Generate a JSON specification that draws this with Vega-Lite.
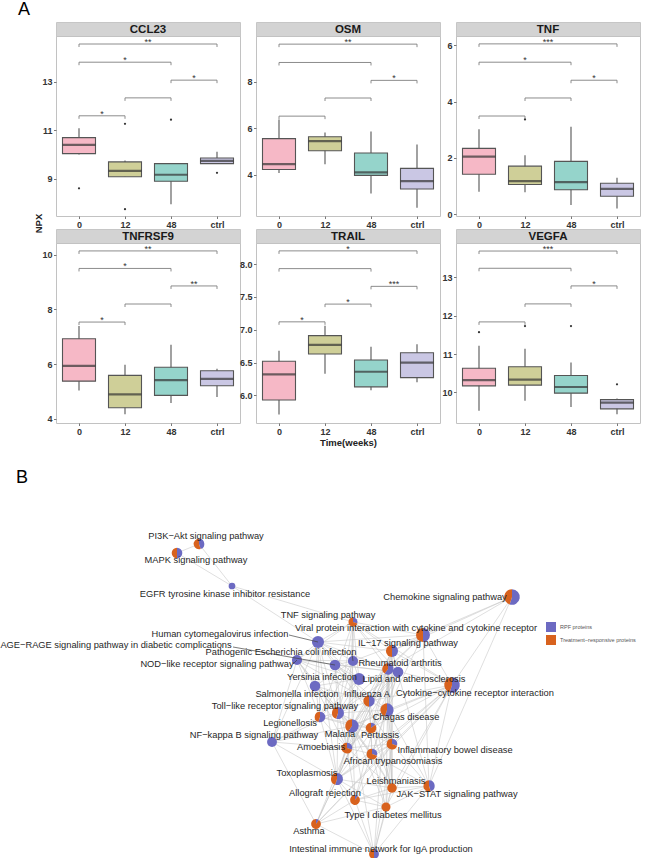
{
"$schema": "https://vega.github.io/schema/vega-lite/v6.json",
"padding": 0,
"background": "white",
"title": {"text": "A", "anchor": "start", "dx": 18, "fontSize": 18, "fontWeight": "normal", "offset": 3, "color": "#000000"},
"config": {
 "font": "Liberation Sans",
 "axis": {"labelFont": "Liberation Sans", "labelFontSize": 9, "labelFontWeight": "bold", "labelColor": "#333333", "tickColor": "#555555", "tickSize": 2.5, "tickWidth": 0.8, "domain": false, "grid": false, "labelPadding": 1.5, "titleFont": "Liberation Sans", "titleFontSize": 9.5, "titleFontWeight": "bold", "titleColor": "#222222"},
 "axisX": {"labelAngle": 0},
 "text": {"font": "Liberation Sans"}
},
"datasets": {
 "boxes": [
  {"protein": "CCL23", "time": "0", "lower": 10.0, "q1": 10.03, "median": 10.39, "q3": 10.69, "upper": 11.08},
  {"protein": "CCL23", "time": "12", "lower": 9.08, "q1": 9.08, "median": 9.32, "q3": 9.69, "upper": 9.75},
  {"protein": "CCL23", "time": "48", "lower": 7.94, "q1": 8.89, "median": 9.16, "q3": 9.62, "upper": 9.62},
  {"protein": "CCL23", "time": "ctrl", "lower": 9.62, "q1": 9.62, "median": 9.73, "q3": 9.85, "upper": 10.11},
  {"protein": "OSM", "time": "0", "lower": 4.07, "q1": 4.22, "median": 4.45, "q3": 5.55, "upper": 6.38},
  {"protein": "OSM", "time": "12", "lower": 4.45, "q1": 5.03, "median": 5.44, "q3": 5.63, "upper": 5.81},
  {"protein": "OSM", "time": "48", "lower": 3.19, "q1": 3.97, "median": 4.10, "q3": 4.93, "upper": 5.86},
  {"protein": "OSM", "time": "ctrl", "lower": 2.57, "q1": 3.38, "median": 3.72, "q3": 4.27, "upper": 5.30},
  {"protein": "TNF", "time": "0", "lower": 0.80, "q1": 1.42, "median": 2.05, "q3": 2.34, "upper": 3.02},
  {"protein": "TNF", "time": "12", "lower": 0.78, "q1": 1.06, "median": 1.18, "q3": 1.71, "upper": 2.10},
  {"protein": "TNF", "time": "48", "lower": 0.33, "q1": 0.87, "median": 1.14, "q3": 1.88, "upper": 3.11},
  {"protein": "TNF", "time": "ctrl", "lower": 0.21, "q1": 0.64, "median": 0.90, "q3": 1.10, "upper": 1.30},
  {"protein": "TNFRSF9", "time": "0", "lower": 5.04, "q1": 5.38, "median": 5.94, "q3": 6.93, "upper": 7.40},
  {"protein": "TNFRSF9", "time": "12", "lower": 4.17, "q1": 4.41, "median": 4.90, "q3": 5.59, "upper": 5.98},
  {"protein": "TNFRSF9", "time": "48", "lower": 4.58, "q1": 4.86, "median": 5.42, "q3": 5.89, "upper": 6.71},
  {"protein": "TNFRSF9", "time": "ctrl", "lower": 4.80, "q1": 5.21, "median": 5.46, "q3": 5.76, "upper": 5.83},
  {"protein": "TRAIL", "time": "0", "lower": 5.71, "q1": 5.93, "median": 6.32, "q3": 6.52, "upper": 6.68},
  {"protein": "TRAIL", "time": "12", "lower": 6.33, "q1": 6.63, "median": 6.77, "q3": 6.91, "upper": 7.06},
  {"protein": "TRAIL", "time": "48", "lower": 6.08, "q1": 6.13, "median": 6.36, "q3": 6.54, "upper": 6.74},
  {"protein": "TRAIL", "time": "ctrl", "lower": 6.20, "q1": 6.27, "median": 6.50, "q3": 6.65, "upper": 6.78},
  {"protein": "VEGFA", "time": "0", "lower": 9.52, "q1": 10.17, "median": 10.32, "q3": 10.63, "upper": 11.22},
  {"protein": "VEGFA", "time": "12", "lower": 9.78, "q1": 10.19, "median": 10.33, "q3": 10.67, "upper": 11.14},
  {"protein": "VEGFA", "time": "48", "lower": 9.62, "q1": 9.98, "median": 10.14, "q3": 10.44, "upper": 10.78},
  {"protein": "VEGFA", "time": "ctrl", "lower": 9.43, "q1": 9.57, "median": 9.73, "q3": 9.81, "upper": 9.84}
 ],
 "outliers": [
  {"protein": "CCL23", "time": "0", "value": 8.60},
  {"protein": "CCL23", "time": "12", "value": 11.26},
  {"protein": "CCL23", "time": "12", "value": 7.74},
  {"protein": "CCL23", "time": "48", "value": 11.43},
  {"protein": "CCL23", "time": "ctrl", "value": 9.24},
  {"protein": "TNF", "time": "12", "value": 3.37},
  {"protein": "VEGFA", "time": "0", "value": 11.57},
  {"protein": "VEGFA", "time": "12", "value": 11.73},
  {"protein": "VEGFA", "time": "48", "value": 11.73},
  {"protein": "VEGFA", "time": "ctrl", "value": 10.21}
 ],
 "brackets": [
  {"protein": "CCL23", "g1": "0", "g2": "ctrl", "mid": "12|48", "y": 14.55, "label": "**"},
  {"protein": "CCL23", "g1": "0", "g2": "48", "mid": "12", "y": 13.80, "label": "*"},
  {"protein": "CCL23", "g1": "48", "g2": "ctrl", "mid": "48|ctrl", "y": 13.06, "label": "*"},
  {"protein": "CCL23", "g1": "12", "g2": "48", "mid": "12|48", "y": 12.33, "label": ""},
  {"protein": "CCL23", "g1": "0", "g2": "12", "mid": "0|12", "y": 11.59, "label": "*"},
  {"protein": "OSM", "g1": "0", "g2": "ctrl", "mid": "12|48", "y": 9.62, "label": "**"},
  {"protein": "OSM", "g1": "0", "g2": "48", "mid": "12", "y": 8.83, "label": ""},
  {"protein": "OSM", "g1": "48", "g2": "ctrl", "mid": "48|ctrl", "y": 8.06, "label": "*"},
  {"protein": "OSM", "g1": "12", "g2": "48", "mid": "12|48", "y": 7.30, "label": ""},
  {"protein": "OSM", "g1": "0", "g2": "12", "mid": "0|12", "y": 6.52, "label": ""},
  {"protein": "TNF", "g1": "0", "g2": "ctrl", "mid": "12|48", "y": 6.05, "label": "***"},
  {"protein": "TNF", "g1": "0", "g2": "48", "mid": "12", "y": 5.40, "label": "*"},
  {"protein": "TNF", "g1": "48", "g2": "ctrl", "mid": "48|ctrl", "y": 4.76, "label": "*"},
  {"protein": "TNF", "g1": "12", "g2": "48", "mid": "12|48", "y": 4.13, "label": ""},
  {"protein": "TNF", "g1": "0", "g2": "12", "mid": "0|12", "y": 3.49, "label": ""},
  {"protein": "TNFRSF9", "g1": "0", "g2": "ctrl", "mid": "12|48", "y": 10.14, "label": "**"},
  {"protein": "TNFRSF9", "g1": "0", "g2": "48", "mid": "12", "y": 9.50, "label": "*"},
  {"protein": "TNFRSF9", "g1": "48", "g2": "ctrl", "mid": "48|ctrl", "y": 8.86, "label": "**"},
  {"protein": "TNFRSF9", "g1": "12", "g2": "48", "mid": "12|48", "y": 8.20, "label": ""},
  {"protein": "TNFRSF9", "g1": "0", "g2": "12", "mid": "0|12", "y": 7.54, "label": "*"},
  {"protein": "TRAIL", "g1": "0", "g2": "ctrl", "mid": "12|48", "y": 8.20, "label": "*"},
  {"protein": "TRAIL", "g1": "0", "g2": "48", "mid": "12", "y": 7.93, "label": ""},
  {"protein": "TRAIL", "g1": "48", "g2": "ctrl", "mid": "48|ctrl", "y": 7.66, "label": "***"},
  {"protein": "TRAIL", "g1": "12", "g2": "48", "mid": "12|48", "y": 7.39, "label": "*"},
  {"protein": "TRAIL", "g1": "0", "g2": "12", "mid": "0|12", "y": 7.12, "label": "*"},
  {"protein": "VEGFA", "g1": "0", "g2": "ctrl", "mid": "12|48", "y": 13.69, "label": "***"},
  {"protein": "VEGFA", "g1": "0", "g2": "48", "mid": "12", "y": 13.24, "label": ""},
  {"protein": "VEGFA", "g1": "48", "g2": "ctrl", "mid": "48|ctrl", "y": 12.78, "label": "*"},
  {"protein": "VEGFA", "g1": "12", "g2": "48", "mid": "12|48", "y": 12.31, "label": ""},
  {"protein": "VEGFA", "g1": "0", "g2": "12", "mid": "0|12", "y": 11.84, "label": ""}
 ],
 "nodes": [
  {"id": "PI3K", "label": "PI3K−Akt signaling pathway", "x": 199, "y": 543, "n": 3.5, "lx": 206, "ly": 535},
  {"id": "MAPK", "label": "MAPK signaling pathway", "x": 177, "y": 552, "n": 3.5, "lx": 196, "ly": 559},
  {"id": "EGFR", "label": "EGFR tyrosine kinase inhibitor resistance", "x": 232, "y": 585, "n": 1.4, "lx": 225, "ly": 593},
  {"id": "Chemo", "label": "Chemokine signaling pathway", "x": 512, "y": 596, "n": 7.5, "lx": 445, "ly": 596},
  {"id": "TNF", "label": "TNF signaling pathway", "x": 353, "y": 621, "n": 2.5, "lx": 328, "ly": 614},
  {"id": "Viral", "label": "Viral protein interaction with cytokine and cytokine receptor", "x": 423, "y": 634, "n": 6, "lx": 416, "ly": 627},
  {"id": "HCMV", "label": "Human cytomegalovirus infection", "x": 318, "y": 641, "n": 4.5, "lx": 220, "ly": 633, "qx": 289, "qy": 634},
  {"id": "IL17", "label": "IL−17 signaling pathway", "x": 392, "y": 650, "n": 4.5, "lx": 408, "ly": 642},
  {"id": "AGE", "label": "AGE−RAGE signaling pathway in diabetic complications", "x": 335, "y": 664, "n": 3.5, "lx": 116, "ly": 644, "qx": 233, "qy": 646},
  {"id": "Ecoli", "label": "Pathogenic Escherichia coli infection", "x": 353, "y": 660, "n": 3.2, "lx": 281, "ly": 651, "qx": 352, "qy": 653},
  {"id": "NOD", "label": "NOD−like receptor signaling pathway", "x": 297, "y": 659, "n": 3.2, "lx": 217, "ly": 663, "qx": 293, "qy": 663},
  {"id": "Lipid", "label": "Lipid and atherosclerosis", "x": 398, "y": 671, "n": 3.5, "lx": 414, "ly": 678},
  {"id": "RA", "label": "Rheumatoid arthritis", "x": 388, "y": 668, "n": 4, "lx": 400, "ly": 662},
  {"id": "Yersinia", "label": "Yersinia infection", "x": 359, "y": 678, "n": 4.5, "lx": 322, "ly": 676},
  {"id": "Salmonella", "label": "Salmonella infection", "x": 315, "y": 685, "n": 3.5, "lx": 297, "ly": 693},
  {"id": "Influenza", "label": "Influenza A", "x": 369, "y": 700, "n": 4, "lx": 367, "ly": 693},
  {"id": "Cytokine", "label": "Cytokine−cytokine receptor interaction", "x": 452, "y": 684, "n": 7.5, "lx": 475, "ly": 692},
  {"id": "Toll", "label": "Toll−like receptor signaling pathway", "x": 338, "y": 712, "n": 4.5, "lx": 285, "ly": 705},
  {"id": "Chagas", "label": "Chagas disease", "x": 387, "y": 709, "n": 5.5, "lx": 406, "ly": 716},
  {"id": "Legion", "label": "Legionellosis", "x": 320, "y": 716, "n": 3.5, "lx": 290, "ly": 722},
  {"id": "Malaria", "label": "Malaria", "x": 352, "y": 725, "n": 5.5, "lx": 340, "ly": 733},
  {"id": "Pertussis", "label": "Pertussis", "x": 371, "y": 727, "n": 3.5, "lx": 380, "ly": 734},
  {"id": "NFkB", "label": "NF−kappa B signaling pathway", "x": 272, "y": 741, "n": 3, "lx": 254, "ly": 734},
  {"id": "Amoeb", "label": "Amoebiasis", "x": 347, "y": 747, "n": 3.5, "lx": 321, "ly": 746},
  {"id": "IBD", "label": "Inflammatory bowel disease", "x": 392, "y": 743, "n": 3.5, "lx": 455, "ly": 749},
  {"id": "African", "label": "African trypanosomiasis", "x": 372, "y": 753, "n": 3.5, "lx": 393, "ly": 760},
  {"id": "Toxo", "label": "Toxoplasmosis", "x": 337, "y": 778, "n": 4.5, "lx": 307, "ly": 772},
  {"id": "Leish", "label": "Leishmaniasis", "x": 392, "y": 787, "n": 2.8, "lx": 396, "ly": 780},
  {"id": "JAK", "label": "JAK−STAT signaling pathway", "x": 429, "y": 785, "n": 4, "lx": 457, "ly": 793},
  {"id": "Allo", "label": "Allograft rejection", "x": 355, "y": 799, "n": 3, "lx": 325, "ly": 792},
  {"id": "T1D", "label": "Type I diabetes mellitus", "x": 386, "y": 806, "n": 2.5, "lx": 393, "ly": 814},
  {"id": "Asthma", "label": "Asthma", "x": 316, "y": 823, "n": 3, "lx": 309, "ly": 830},
  {"id": "IgA", "label": "Intestinal immune network for IgA production", "x": 374, "y": 853, "n": 3, "lx": 381, "ly": 848}
 ],
 "slices": [
  {"id": "PI3K", "cls": "RPF proteins", "t0": 0, "t1": 0.45}, {"id": "PI3K", "cls": "Treatment−responsive proteins", "t0": 0.45, "t1": 1},
  {"id": "MAPK", "cls": "RPF proteins", "t0": 0, "t1": 0.5}, {"id": "MAPK", "cls": "Treatment−responsive proteins", "t0": 0.5, "t1": 1},
  {"id": "EGFR", "cls": "RPF proteins", "t0": 0, "t1": 1},
  {"id": "Chemo", "cls": "RPF proteins", "t0": 0, "t1": 0.55}, {"id": "Chemo", "cls": "Treatment−responsive proteins", "t0": 0.55, "t1": 1},
  {"id": "TNF", "cls": "RPF proteins", "t0": 0, "t1": 0.3}, {"id": "TNF", "cls": "Treatment−responsive proteins", "t0": 0.3, "t1": 1},
  {"id": "Viral", "cls": "RPF proteins", "t0": 0, "t1": 0.5}, {"id": "Viral", "cls": "Treatment−responsive proteins", "t0": 0.5, "t1": 1},
  {"id": "HCMV", "cls": "RPF proteins", "t0": 0, "t1": 1},
  {"id": "IL17", "cls": "RPF proteins", "t0": 0, "t1": 0.5}, {"id": "IL17", "cls": "Treatment−responsive proteins", "t0": 0.5, "t1": 1},
  {"id": "AGE", "cls": "RPF proteins", "t0": 0, "t1": 1},
  {"id": "Ecoli", "cls": "RPF proteins", "t0": 0, "t1": 1},
  {"id": "NOD", "cls": "RPF proteins", "t0": 0, "t1": 1},
  {"id": "Lipid", "cls": "RPF proteins", "t0": 0, "t1": 1},
  {"id": "RA", "cls": "RPF proteins", "t0": 0, "t1": 0.6}, {"id": "RA", "cls": "Treatment−responsive proteins", "t0": 0.6, "t1": 1},
  {"id": "Yersinia", "cls": "RPF proteins", "t0": 0, "t1": 1},
  {"id": "Salmonella", "cls": "RPF proteins", "t0": 0, "t1": 1},
  {"id": "Influenza", "cls": "RPF proteins", "t0": 0, "t1": 0.5}, {"id": "Influenza", "cls": "Treatment−responsive proteins", "t0": 0.5, "t1": 1},
  {"id": "Cytokine", "cls": "RPF proteins", "t0": 0, "t1": 0.55}, {"id": "Cytokine", "cls": "Treatment−responsive proteins", "t0": 0.55, "t1": 1},
  {"id": "Toll", "cls": "RPF proteins", "t0": 0, "t1": 0.55}, {"id": "Toll", "cls": "Treatment−responsive proteins", "t0": 0.55, "t1": 1},
  {"id": "Chagas", "cls": "RPF proteins", "t0": 0, "t1": 0.55}, {"id": "Chagas", "cls": "Treatment−responsive proteins", "t0": 0.55, "t1": 1},
  {"id": "Legion", "cls": "RPF proteins", "t0": 0, "t1": 0.55}, {"id": "Legion", "cls": "Treatment−responsive proteins", "t0": 0.55, "t1": 1},
  {"id": "Malaria", "cls": "RPF proteins", "t0": 0, "t1": 0.6}, {"id": "Malaria", "cls": "Treatment−responsive proteins", "t0": 0.6, "t1": 1},
  {"id": "Pertussis", "cls": "RPF proteins", "t0": 0, "t1": 0.15}, {"id": "Pertussis", "cls": "Treatment−responsive proteins", "t0": 0.15, "t1": 1},
  {"id": "NFkB", "cls": "RPF proteins", "t0": 0, "t1": 1},
  {"id": "Amoeb", "cls": "RPF proteins", "t0": 0, "t1": 0.3}, {"id": "Amoeb", "cls": "Treatment−responsive proteins", "t0": 0.3, "t1": 1},
  {"id": "IBD", "cls": "RPF proteins", "t0": 0, "t1": 0.3}, {"id": "IBD", "cls": "Treatment−responsive proteins", "t0": 0.3, "t1": 1},
  {"id": "African", "cls": "RPF proteins", "t0": 0, "t1": 0.3}, {"id": "African", "cls": "Treatment−responsive proteins", "t0": 0.3, "t1": 1},
  {"id": "Toxo", "cls": "RPF proteins", "t0": 0, "t1": 0.55}, {"id": "Toxo", "cls": "Treatment−responsive proteins", "t0": 0.55, "t1": 1},
  {"id": "Leish", "cls": "Treatment−responsive proteins", "t0": 0, "t1": 1},
  {"id": "JAK", "cls": "RPF proteins", "t0": 0, "t1": 0.45}, {"id": "JAK", "cls": "Treatment−responsive proteins", "t0": 0.45, "t1": 1},
  {"id": "Allo", "cls": "RPF proteins", "t0": 0, "t1": 0.1}, {"id": "Allo", "cls": "Treatment−responsive proteins", "t0": 0.1, "t1": 1},
  {"id": "T1D", "cls": "Treatment−responsive proteins", "t0": 0, "t1": 1},
  {"id": "Asthma", "cls": "RPF proteins", "t0": 0, "t1": 0.1}, {"id": "Asthma", "cls": "Treatment−responsive proteins", "t0": 0.1, "t1": 1},
  {"id": "IgA", "cls": "RPF proteins", "t0": 0, "t1": 0.5}, {"id": "IgA", "cls": "Treatment−responsive proteins", "t0": 0.5, "t1": 1}
 ],
 "edges": [
  {"a":"PI3K","b":"MAPK"},{"a":"PI3K","b":"EGFR"},{"a":"MAPK","b":"EGFR"},{"a":"EGFR","b":"TNF"},{"a":"EGFR","b":"HCMV"},
  {"a":"Chemo","b":"Viral"},{"a":"Chemo","b":"Cytokine"},{"a":"Chemo","b":"IL17"},{"a":"Chemo","b":"JAK"},{"a":"Chemo","b":"RA"},
  {"a":"Viral","b":"IL17"},{"a":"Viral","b":"Cytokine"},{"a":"Viral","b":"HCMV"},{"a":"Viral","b":"TNF"},{"a":"Viral","b":"RA"},{"a":"Viral","b":"Ecoli"},{"a":"Viral","b":"Toll"},{"a":"Viral","b":"Chagas"},{"a":"Viral","b":"JAK"},
  {"a":"TNF","b":"IL17"},{"a":"TNF","b":"HCMV"},{"a":"TNF","b":"Ecoli"},{"a":"TNF","b":"NOD"},{"a":"TNF","b":"RA"},{"a":"TNF","b":"Toll"},{"a":"TNF","b":"Yersinia"},{"a":"TNF","b":"Lipid"},{"a":"TNF","b":"Legion"},{"a":"TNF","b":"Malaria"},{"a":"TNF","b":"Cytokine"},{"a":"TNF","b":"Amoeb"},
  {"a":"HCMV","b":"NOD"},{"a":"HCMV","b":"AGE"},{"a":"HCMV","b":"Ecoli"},{"a":"HCMV","b":"Lipid"},{"a":"HCMV","b":"Toll"},{"a":"HCMV","b":"NFkB"},{"a":"HCMV","b":"Yersinia"},{"a":"HCMV","b":"Salmonella"},{"a":"HCMV","b":"Legion"},{"a":"HCMV","b":"Toxo"},{"a":"HCMV","b":"Influenza"},{"a":"HCMV","b":"IL17"},
  {"a":"IL17","b":"RA"},{"a":"IL17","b":"Cytokine"},{"a":"IL17","b":"Lipid"},{"a":"IL17","b":"Chagas"},{"a":"IL17","b":"Malaria"},{"a":"IL17","b":"Pertussis"},{"a":"IL17","b":"IBD"},{"a":"IL17","b":"Amoeb"},{"a":"IL17","b":"Leish"},{"a":"IL17","b":"Toxo"},{"a":"IL17","b":"JAK"},
  {"a":"NOD","b":"Ecoli"},{"a":"NOD","b":"Yersinia"},{"a":"NOD","b":"Salmonella"},{"a":"NOD","b":"Toll"},{"a":"NOD","b":"Legion"},{"a":"NOD","b":"Lipid"},{"a":"NOD","b":"Influenza"},{"a":"NOD","b":"Malaria"},{"a":"NOD","b":"NFkB"},
  {"a":"AGE","b":"Lipid"},{"a":"AGE","b":"Yersinia"},{"a":"AGE","b":"Toll"},{"a":"AGE","b":"Ecoli"},{"a":"AGE","b":"Chagas"},{"a":"AGE","b":"Amoeb"},{"a":"AGE","b":"IBD"},
  {"a":"Ecoli","b":"Yersinia"},{"a":"Ecoli","b":"Salmonella"},{"a":"Ecoli","b":"Lipid"},{"a":"Ecoli","b":"Toll"},{"a":"Ecoli","b":"Legion"},{"a":"Ecoli","b":"Amoeb"},
  {"a":"RA","b":"Cytokine"},{"a":"RA","b":"Lipid"},{"a":"RA","b":"Chagas"},{"a":"RA","b":"Malaria"},{"a":"RA","b":"IBD"},{"a":"RA","b":"Leish"},{"a":"RA","b":"Toxo"},{"a":"RA","b":"Allo"},{"a":"RA","b":"T1D"},{"a":"RA","b":"Asthma"},{"a":"RA","b":"IgA"},
  {"a":"Yersinia","b":"Salmonella"},{"a":"Yersinia","b":"Toll"},{"a":"Yersinia","b":"Legion"},{"a":"Yersinia","b":"Lipid"},{"a":"Yersinia","b":"Malaria"},
  {"a":"Lipid","b":"Influenza"},{"a":"Lipid","b":"Chagas"},{"a":"Lipid","b":"Toll"},{"a":"Lipid","b":"Malaria"},{"a":"Lipid","b":"Pertussis"},{"a":"Lipid","b":"Amoeb"},{"a":"Lipid","b":"African"},
  {"a":"Salmonella","b":"Toll"},{"a":"Salmonella","b":"Legion"},{"a":"Salmonella","b":"Influenza"},{"a":"Salmonella","b":"Malaria"},{"a":"Salmonella","b":"Amoeb"},
  {"a":"Influenza","b":"Toll"},{"a":"Influenza","b":"Chagas"},{"a":"Influenza","b":"Malaria"},{"a":"Influenza","b":"Pertussis"},{"a":"Influenza","b":"Cytokine"},{"a":"Influenza","b":"African"},{"a":"Influenza","b":"Leish"},
  {"a":"Cytokine","b":"Chagas"},{"a":"Cytokine","b":"JAK"},{"a":"Cytokine","b":"IBD"},{"a":"Cytokine","b":"Pertussis"},{"a":"Cytokine","b":"Malaria"},{"a":"Cytokine","b":"Leish"},{"a":"Cytokine","b":"African"},{"a":"Cytokine","b":"T1D"},{"a":"Cytokine","b":"Toxo"},{"a":"Cytokine","b":"Asthma"},
  {"a":"Toll","b":"Chagas"},{"a":"Toll","b":"Legion"},{"a":"Toll","b":"Malaria"},{"a":"Toll","b":"Pertussis"},{"a":"Toll","b":"Amoeb"},{"a":"Toll","b":"NFkB"},{"a":"Toll","b":"Toxo"},{"a":"Toll","b":"African"},
  {"a":"Chagas","b":"Malaria"},{"a":"Chagas","b":"Pertussis"},{"a":"Chagas","b":"IBD"},{"a":"Chagas","b":"Amoeb"},{"a":"Chagas","b":"African"},{"a":"Chagas","b":"Leish"},{"a":"Chagas","b":"Toxo"},{"a":"Chagas","b":"JAK"},
  {"a":"Legion","b":"Malaria"},{"a":"Legion","b":"Amoeb"},{"a":"Legion","b":"NFkB"},{"a":"Legion","b":"Toxo"},{"a":"Legion","b":"Pertussis"},
  {"a":"Malaria","b":"Pertussis"},{"a":"Malaria","b":"Amoeb"},{"a":"Malaria","b":"African"},{"a":"Malaria","b":"Toxo"},{"a":"Malaria","b":"Leish"},{"a":"Malaria","b":"IBD"},{"a":"Malaria","b":"Allo"},{"a":"Malaria","b":"T1D"},{"a":"Malaria","b":"IgA"},
  {"a":"Pertussis","b":"IBD"},{"a":"Pertussis","b":"African"},{"a":"Pertussis","b":"Amoeb"},{"a":"Pertussis","b":"Leish"},
  {"a":"NFkB","b":"Amoeb"},{"a":"NFkB","b":"Toxo"},{"a":"NFkB","b":"Asthma"},{"a":"NFkB","b":"Malaria"},
  {"a":"Amoeb","b":"African"},{"a":"Amoeb","b":"Toxo"},{"a":"Amoeb","b":"Leish"},{"a":"Amoeb","b":"IBD"},{"a":"Amoeb","b":"Allo"},{"a":"Amoeb","b":"Asthma"},
  {"a":"IBD","b":"African"},{"a":"IBD","b":"Leish"},{"a":"IBD","b":"JAK"},{"a":"IBD","b":"T1D"},{"a":"IBD","b":"Allo"},{"a":"IBD","b":"Toxo"},{"a":"IBD","b":"Asthma"},{"a":"IBD","b":"IgA"},
  {"a":"African","b":"Toxo"},{"a":"African","b":"Leish"},{"a":"African","b":"JAK"},{"a":"African","b":"Allo"},{"a":"African","b":"T1D"},
  {"a":"Toxo","b":"Leish"},{"a":"Toxo","b":"Allo"},{"a":"Toxo","b":"Asthma"},{"a":"Toxo","b":"T1D"},{"a":"Toxo","b":"IgA"},
  {"a":"Leish","b":"JAK"},{"a":"Leish","b":"Allo"},{"a":"Leish","b":"T1D"},{"a":"Leish","b":"IgA"},
  {"a":"JAK","b":"T1D"},{"a":"JAK","b":"IgA"},{"a":"JAK","b":"Allo"},
  {"a":"Allo","b":"T1D"},{"a":"Allo","b":"Asthma"},{"a":"Allo","b":"IgA"},
  {"a":"T1D","b":"Asthma"},{"a":"T1D","b":"IgA"},{"a":"Asthma","b":"IgA"}
 ]
},
"spacing": 22,
"resolve": {"scale": {"fill": "independent"}, "legend": {"fill": "independent"}},
"vconcat": [
 {"columns": 4, "align": "each", "bounds": "flush", "spacing": {"row": 0, "column": 16}, "concat": [
  {"width": 40, "height": 14, "view": {"stroke": null}, "data": {"values": [{"v": 0}]}, "mark": {"type": "text", "opacity": 0}, "encoding": {"text": {"field": "v"}}},
  {"width": 184, "height": 14, "view": {"fill": "#D3D3D3", "stroke": "#C6C6C6"}, "data": {"values": [{"protein": "CCL23"}]}, "mark": {"type": "text", "fontWeight": "bold", "fontSize": 11.5, "color": "#1a1a1a", "baseline": "middle", "dy": 0.5}, "encoding": {"text": {"field": "protein"}}},
  {"width": 184, "height": 14, "view": {"fill": "#D3D3D3", "stroke": "#C6C6C6"}, "data": {"values": [{"protein": "OSM"}]}, "mark": {"type": "text", "fontWeight": "bold", "fontSize": 11.5, "color": "#1a1a1a", "baseline": "middle", "dy": 0.5}, "encoding": {"text": {"field": "protein"}}},
  {"width": 184, "height": 14, "view": {"fill": "#D3D3D3", "stroke": "#C6C6C6"}, "data": {"values": [{"protein": "TNF"}]}, "mark": {"type": "text", "fontWeight": "bold", "fontSize": 11.5, "color": "#1a1a1a", "baseline": "middle", "dy": 0.5}, "encoding": {"text": {"field": "protein"}}},

  {"width": 40, "height": 180, "view": {"stroke": null}, "data": {"values": [{"v": 0}]}, "mark": {"type": "text", "opacity": 0}, "encoding": {"text": {"field": "v"}}},
  {"width": 184, "height": 180, "view": {"stroke": "#C2C2C2"}, "layer": [
   {"data": {"name": "boxes"}, "transform": [{"filter": "datum.protein == 'CCL23'"}], "layer": [
    {"mark": {"type": "rule", "color": "#555555", "strokeWidth": 1.1}, "encoding": {"x": {"field": "time", "type": "nominal", "scale": {"type": "point", "domain": ["0","0|12","12","12|48","48","48|ctrl","ctrl"], "padding": 1.2}, "axis": {"values": ["0","12","48","ctrl"], "title": null}}, "y": {"field": "lower", "type": "quantitative", "scale": {"domain": [7.46, 14.88], "nice": false, "zero": false}, "axis": {"values": [9, 11, 13], "title": null}}, "y2": {"field": "upper"}}},
    {"mark": {"type": "bar", "size": 33, "stroke": "#555555", "strokeWidth": 1.1}, "encoding": {"x": {"field": "time", "type": "nominal"}, "y": {"field": "q1", "type": "quantitative"}, "y2": {"field": "q3"}, "color": {"field": "time", "type": "nominal", "scale": {"domain": ["0","12","48","ctrl"], "range": ["#F6B8C6","#CFCF98","#95D4CB","#CAC7E4"]}, "legend": null}}},
    {"mark": {"type": "tick", "size": 33, "thickness": 2.2, "color": "#333333"}, "encoding": {"x": {"field": "time", "type": "nominal"}, "y": {"field": "median", "type": "quantitative"}}}
   ]},
   {"data": {"name": "outliers"}, "transform": [{"filter": "datum.protein == 'CCL23'"}], "mark": {"type": "circle", "size": 5, "color": "#333333", "opacity": 1}, "encoding": {"x": {"field": "time", "type": "nominal"}, "y": {"field": "value", "type": "quantitative"}}},
   {"data": {"name": "brackets"}, "transform": [{"filter": "datum.protein == 'CCL23'"}], "layer": [
    {"mark": {"type": "rule", "color": "#7f7f7f", "strokeWidth": 0.9}, "encoding": {"x": {"field": "g1", "type": "nominal"}, "x2": {"field": "g2"}, "y": {"field": "y", "type": "quantitative"}}},
    {"mark": {"type": "point", "shape": "M0,0L0,1", "size": 36, "filled": false, "color": "#7f7f7f", "strokeWidth": 0.9, "opacity": 1}, "encoding": {"x": {"field": "g1", "type": "nominal"}, "y": {"field": "y", "type": "quantitative"}}},
    {"mark": {"type": "point", "shape": "M0,0L0,1", "size": 36, "filled": false, "color": "#7f7f7f", "strokeWidth": 0.9, "opacity": 1}, "encoding": {"x": {"field": "g2", "type": "nominal"}, "y": {"field": "y", "type": "quantitative"}}},
    {"mark": {"type": "text", "fontSize": 9, "color": "#333333", "baseline": "alphabetic", "dy": 1}, "encoding": {"x": {"field": "mid", "type": "nominal"}, "y": {"field": "y", "type": "quantitative"}, "text": {"field": "label"}}}
   ]}
  ]},
  {"width": 184, "height": 180, "view": {"stroke": "#C2C2C2"}, "layer": [
   {"data": {"name": "boxes"}, "transform": [{"filter": "datum.protein == 'OSM'"}], "layer": [
    {"mark": {"type": "rule", "color": "#555555", "strokeWidth": 1.1}, "encoding": {"x": {"field": "time", "type": "nominal", "scale": {"type": "point", "domain": ["0","0|12","12","12|48","48","48|ctrl","ctrl"], "padding": 1.2}, "axis": {"values": ["0","12","48","ctrl"], "title": null}}, "y": {"field": "lower", "type": "quantitative", "scale": {"domain": [2.22, 9.97], "nice": false, "zero": false}, "axis": {"values": [4, 6, 8], "title": null}}, "y2": {"field": "upper"}}},
    {"mark": {"type": "bar", "size": 33, "stroke": "#555555", "strokeWidth": 1.1}, "encoding": {"x": {"field": "time", "type": "nominal"}, "y": {"field": "q1", "type": "quantitative"}, "y2": {"field": "q3"}, "color": {"field": "time", "type": "nominal", "scale": {"domain": ["0","12","48","ctrl"], "range": ["#F6B8C6","#CFCF98","#95D4CB","#CAC7E4"]}, "legend": null}}},
    {"mark": {"type": "tick", "size": 33, "thickness": 2.2, "color": "#333333"}, "encoding": {"x": {"field": "time", "type": "nominal"}, "y": {"field": "median", "type": "quantitative"}}}
   ]},
   {"data": {"name": "outliers"}, "transform": [{"filter": "datum.protein == 'OSM'"}], "mark": {"type": "circle", "size": 5, "color": "#333333", "opacity": 1}, "encoding": {"x": {"field": "time", "type": "nominal"}, "y": {"field": "value", "type": "quantitative"}}},
   {"data": {"name": "brackets"}, "transform": [{"filter": "datum.protein == 'OSM'"}], "layer": [
    {"mark": {"type": "rule", "color": "#7f7f7f", "strokeWidth": 0.9}, "encoding": {"x": {"field": "g1", "type": "nominal"}, "x2": {"field": "g2"}, "y": {"field": "y", "type": "quantitative"}}},
    {"mark": {"type": "point", "shape": "M0,0L0,1", "size": 36, "filled": false, "color": "#7f7f7f", "strokeWidth": 0.9, "opacity": 1}, "encoding": {"x": {"field": "g1", "type": "nominal"}, "y": {"field": "y", "type": "quantitative"}}},
    {"mark": {"type": "point", "shape": "M0,0L0,1", "size": 36, "filled": false, "color": "#7f7f7f", "strokeWidth": 0.9, "opacity": 1}, "encoding": {"x": {"field": "g2", "type": "nominal"}, "y": {"field": "y", "type": "quantitative"}}},
    {"mark": {"type": "text", "fontSize": 9, "color": "#333333", "baseline": "alphabetic", "dy": 1}, "encoding": {"x": {"field": "mid", "type": "nominal"}, "y": {"field": "y", "type": "quantitative"}, "text": {"field": "label"}}}
   ]}
  ]},
  {"width": 184, "height": 180, "view": {"stroke": "#C2C2C2"}, "layer": [
   {"data": {"name": "boxes"}, "transform": [{"filter": "datum.protein == 'TNF'"}], "layer": [
    {"mark": {"type": "rule", "color": "#555555", "strokeWidth": 1.1}, "encoding": {"x": {"field": "time", "type": "nominal", "scale": {"type": "point", "domain": ["0","0|12","12","12|48","48","48|ctrl","ctrl"], "padding": 1.2}, "axis": {"values": ["0","12","48","ctrl"], "title": null}}, "y": {"field": "lower", "type": "quantitative", "scale": {"domain": [-0.06, 6.33], "nice": false, "zero": false}, "axis": {"values": [0, 2, 4, 6], "title": null}}, "y2": {"field": "upper"}}},
    {"mark": {"type": "bar", "size": 33, "stroke": "#555555", "strokeWidth": 1.1}, "encoding": {"x": {"field": "time", "type": "nominal"}, "y": {"field": "q1", "type": "quantitative"}, "y2": {"field": "q3"}, "color": {"field": "time", "type": "nominal", "scale": {"domain": ["0","12","48","ctrl"], "range": ["#F6B8C6","#CFCF98","#95D4CB","#CAC7E4"]}, "legend": null}}},
    {"mark": {"type": "tick", "size": 33, "thickness": 2.2, "color": "#333333"}, "encoding": {"x": {"field": "time", "type": "nominal"}, "y": {"field": "median", "type": "quantitative"}}}
   ]},
   {"data": {"name": "outliers"}, "transform": [{"filter": "datum.protein == 'TNF'"}], "mark": {"type": "circle", "size": 5, "color": "#333333", "opacity": 1}, "encoding": {"x": {"field": "time", "type": "nominal"}, "y": {"field": "value", "type": "quantitative"}}},
   {"data": {"name": "brackets"}, "transform": [{"filter": "datum.protein == 'TNF'"}], "layer": [
    {"mark": {"type": "rule", "color": "#7f7f7f", "strokeWidth": 0.9}, "encoding": {"x": {"field": "g1", "type": "nominal"}, "x2": {"field": "g2"}, "y": {"field": "y", "type": "quantitative"}}},
    {"mark": {"type": "point", "shape": "M0,0L0,1", "size": 36, "filled": false, "color": "#7f7f7f", "strokeWidth": 0.9, "opacity": 1}, "encoding": {"x": {"field": "g1", "type": "nominal"}, "y": {"field": "y", "type": "quantitative"}}},
    {"mark": {"type": "point", "shape": "M0,0L0,1", "size": 36, "filled": false, "color": "#7f7f7f", "strokeWidth": 0.9, "opacity": 1}, "encoding": {"x": {"field": "g2", "type": "nominal"}, "y": {"field": "y", "type": "quantitative"}}},
    {"mark": {"type": "text", "fontSize": 9, "color": "#333333", "baseline": "alphabetic", "dy": 1}, "encoding": {"x": {"field": "mid", "type": "nominal"}, "y": {"field": "y", "type": "quantitative"}, "text": {"field": "label"}}}
   ]}
  ]},

  {"width": 40, "height": 13, "view": {"stroke": null}, "data": {"values": [{"v": 0}]}, "mark": {"type": "text", "opacity": 0}, "encoding": {"text": {"field": "v"}}},
  {"width": 184, "height": 13, "view": {"stroke": null}, "data": {"values": [{"v": 0}]}, "mark": {"type": "text", "opacity": 0}, "encoding": {"text": {"field": "v"}}},
  {"width": 184, "height": 13, "view": {"stroke": null}, "data": {"values": [{"v": 0}]}, "mark": {"type": "text", "opacity": 0}, "encoding": {"text": {"field": "v"}}},
  {"width": 184, "height": 13, "view": {"stroke": null}, "data": {"values": [{"v": 0}]}, "mark": {"type": "text", "opacity": 0}, "encoding": {"text": {"field": "v"}}},

  {"width": 40, "height": 14, "view": {"stroke": null}, "data": {"values": [{"v": 0}]}, "mark": {"type": "text", "opacity": 0}, "encoding": {"text": {"field": "v"}}},
  {"width": 184, "height": 14, "view": {"fill": "#D3D3D3", "stroke": "#C6C6C6"}, "data": {"values": [{"protein": "TNFRSF9"}]}, "mark": {"type": "text", "fontWeight": "bold", "fontSize": 11.5, "color": "#1a1a1a", "baseline": "middle", "dy": 0.5}, "encoding": {"text": {"field": "protein"}}},
  {"width": 184, "height": 14, "view": {"fill": "#D3D3D3", "stroke": "#C6C6C6"}, "data": {"values": [{"protein": "TRAIL"}]}, "mark": {"type": "text", "fontWeight": "bold", "fontSize": 11.5, "color": "#1a1a1a", "baseline": "middle", "dy": 0.5}, "encoding": {"text": {"field": "protein"}}},
  {"width": 184, "height": 14, "view": {"fill": "#D3D3D3", "stroke": "#C6C6C6"}, "data": {"values": [{"protein": "VEGFA"}]}, "mark": {"type": "text", "fontWeight": "bold", "fontSize": 11.5, "color": "#1a1a1a", "baseline": "middle", "dy": 0.5}, "encoding": {"text": {"field": "protein"}}},

  {"width": 40, "height": 180, "view": {"stroke": null}, "data": {"values": [{"v": 0}]}, "mark": {"type": "text", "opacity": 0}, "encoding": {"text": {"field": "v"}}},
  {"width": 184, "height": 180, "view": {"stroke": "#C2C2C2"}, "layer": [
   {"data": {"name": "boxes"}, "transform": [{"filter": "datum.protein == 'TNFRSF9'"}], "layer": [
    {"mark": {"type": "rule", "color": "#555555", "strokeWidth": 1.1}, "encoding": {"x": {"field": "time", "type": "nominal", "scale": {"type": "point", "domain": ["0","0|12","12","12|48","48","48|ctrl","ctrl"], "padding": 1.2}, "axis": {"values": ["0","12","48","ctrl"], "title": null}}, "y": {"field": "lower", "type": "quantitative", "scale": {"domain": [3.85, 10.43], "nice": false, "zero": false}, "axis": {"values": [4, 6, 8, 10], "title": "NPX", "titleX": -13, "titleY": -20, "titleAngle": -90}}, "y2": {"field": "upper"}}},
    {"mark": {"type": "bar", "size": 33, "stroke": "#555555", "strokeWidth": 1.1}, "encoding": {"x": {"field": "time", "type": "nominal"}, "y": {"field": "q1", "type": "quantitative"}, "y2": {"field": "q3"}, "color": {"field": "time", "type": "nominal", "scale": {"domain": ["0","12","48","ctrl"], "range": ["#F6B8C6","#CFCF98","#95D4CB","#CAC7E4"]}, "legend": null}}},
    {"mark": {"type": "tick", "size": 33, "thickness": 2.2, "color": "#333333"}, "encoding": {"x": {"field": "time", "type": "nominal"}, "y": {"field": "median", "type": "quantitative"}}}
   ]},
   {"data": {"name": "outliers"}, "transform": [{"filter": "datum.protein == 'TNFRSF9'"}], "mark": {"type": "circle", "size": 5, "color": "#333333", "opacity": 1}, "encoding": {"x": {"field": "time", "type": "nominal"}, "y": {"field": "value", "type": "quantitative"}}},
   {"data": {"name": "brackets"}, "transform": [{"filter": "datum.protein == 'TNFRSF9'"}], "layer": [
    {"mark": {"type": "rule", "color": "#7f7f7f", "strokeWidth": 0.9}, "encoding": {"x": {"field": "g1", "type": "nominal"}, "x2": {"field": "g2"}, "y": {"field": "y", "type": "quantitative"}}},
    {"mark": {"type": "point", "shape": "M0,0L0,1", "size": 36, "filled": false, "color": "#7f7f7f", "strokeWidth": 0.9, "opacity": 1}, "encoding": {"x": {"field": "g1", "type": "nominal"}, "y": {"field": "y", "type": "quantitative"}}},
    {"mark": {"type": "point", "shape": "M0,0L0,1", "size": 36, "filled": false, "color": "#7f7f7f", "strokeWidth": 0.9, "opacity": 1}, "encoding": {"x": {"field": "g2", "type": "nominal"}, "y": {"field": "y", "type": "quantitative"}}},
    {"mark": {"type": "text", "fontSize": 9, "color": "#333333", "baseline": "alphabetic", "dy": 1}, "encoding": {"x": {"field": "mid", "type": "nominal"}, "y": {"field": "y", "type": "quantitative"}, "text": {"field": "label"}}}
   ]}
  ]},
  {"width": 184, "height": 180, "view": {"stroke": "#C2C2C2"}, "layer": [
   {"data": {"name": "boxes"}, "transform": [{"filter": "datum.protein == 'TRAIL'"}], "layer": [
    {"mark": {"type": "rule", "color": "#555555", "strokeWidth": 1.1}, "encoding": {"x": {"field": "time", "type": "nominal", "scale": {"type": "point", "domain": ["0","0|12","12","12|48","48","48|ctrl","ctrl"], "padding": 1.2}, "axis": {"values": ["0","12","48","ctrl"], "title": "Time(weeks)", "titlePadding": 1}}, "y": {"field": "lower", "type": "quantitative", "scale": {"domain": [5.58, 8.32], "nice": false, "zero": false}, "axis": {"values": [6.0, 6.5, 7.0, 7.5, 8.0], "format": ".1f", "title": null}}, "y2": {"field": "upper"}}},
    {"mark": {"type": "bar", "size": 33, "stroke": "#555555", "strokeWidth": 1.1}, "encoding": {"x": {"field": "time", "type": "nominal"}, "y": {"field": "q1", "type": "quantitative"}, "y2": {"field": "q3"}, "color": {"field": "time", "type": "nominal", "scale": {"domain": ["0","12","48","ctrl"], "range": ["#F6B8C6","#CFCF98","#95D4CB","#CAC7E4"]}, "legend": null}}},
    {"mark": {"type": "tick", "size": 33, "thickness": 2.2, "color": "#333333"}, "encoding": {"x": {"field": "time", "type": "nominal"}, "y": {"field": "median", "type": "quantitative"}}}
   ]},
   {"data": {"name": "outliers"}, "transform": [{"filter": "datum.protein == 'TRAIL'"}], "mark": {"type": "circle", "size": 5, "color": "#333333", "opacity": 1}, "encoding": {"x": {"field": "time", "type": "nominal"}, "y": {"field": "value", "type": "quantitative"}}},
   {"data": {"name": "brackets"}, "transform": [{"filter": "datum.protein == 'TRAIL'"}], "layer": [
    {"mark": {"type": "rule", "color": "#7f7f7f", "strokeWidth": 0.9}, "encoding": {"x": {"field": "g1", "type": "nominal"}, "x2": {"field": "g2"}, "y": {"field": "y", "type": "quantitative"}}},
    {"mark": {"type": "point", "shape": "M0,0L0,1", "size": 36, "filled": false, "color": "#7f7f7f", "strokeWidth": 0.9, "opacity": 1}, "encoding": {"x": {"field": "g1", "type": "nominal"}, "y": {"field": "y", "type": "quantitative"}}},
    {"mark": {"type": "point", "shape": "M0,0L0,1", "size": 36, "filled": false, "color": "#7f7f7f", "strokeWidth": 0.9, "opacity": 1}, "encoding": {"x": {"field": "g2", "type": "nominal"}, "y": {"field": "y", "type": "quantitative"}}},
    {"mark": {"type": "text", "fontSize": 9, "color": "#333333", "baseline": "alphabetic", "dy": 1}, "encoding": {"x": {"field": "mid", "type": "nominal"}, "y": {"field": "y", "type": "quantitative"}, "text": {"field": "label"}}}
   ]}
  ]},
  {"width": 184, "height": 180, "view": {"stroke": "#C2C2C2"}, "layer": [
   {"data": {"name": "boxes"}, "transform": [{"filter": "datum.protein == 'VEGFA'"}], "layer": [
    {"mark": {"type": "rule", "color": "#555555", "strokeWidth": 1.1}, "encoding": {"x": {"field": "time", "type": "nominal", "scale": {"type": "point", "domain": ["0","0|12","12","12|48","48","48|ctrl","ctrl"], "padding": 1.2}, "axis": {"values": ["0","12","48","ctrl"], "title": null}}, "y": {"field": "lower", "type": "quantitative", "scale": {"domain": [9.20, 13.90], "nice": false, "zero": false}, "axis": {"values": [10, 11, 12, 13], "title": null}}, "y2": {"field": "upper"}}},
    {"mark": {"type": "bar", "size": 33, "stroke": "#555555", "strokeWidth": 1.1}, "encoding": {"x": {"field": "time", "type": "nominal"}, "y": {"field": "q1", "type": "quantitative"}, "y2": {"field": "q3"}, "color": {"field": "time", "type": "nominal", "scale": {"domain": ["0","12","48","ctrl"], "range": ["#F6B8C6","#CFCF98","#95D4CB","#CAC7E4"]}, "legend": null}}},
    {"mark": {"type": "tick", "size": 33, "thickness": 2.2, "color": "#333333"}, "encoding": {"x": {"field": "time", "type": "nominal"}, "y": {"field": "median", "type": "quantitative"}}}
   ]},
   {"data": {"name": "outliers"}, "transform": [{"filter": "datum.protein == 'VEGFA'"}], "mark": {"type": "circle", "size": 5, "color": "#333333", "opacity": 1}, "encoding": {"x": {"field": "time", "type": "nominal"}, "y": {"field": "value", "type": "quantitative"}}},
   {"data": {"name": "brackets"}, "transform": [{"filter": "datum.protein == 'VEGFA'"}], "layer": [
    {"mark": {"type": "rule", "color": "#7f7f7f", "strokeWidth": 0.9}, "encoding": {"x": {"field": "g1", "type": "nominal"}, "x2": {"field": "g2"}, "y": {"field": "y", "type": "quantitative"}}},
    {"mark": {"type": "point", "shape": "M0,0L0,1", "size": 36, "filled": false, "color": "#7f7f7f", "strokeWidth": 0.9, "opacity": 1}, "encoding": {"x": {"field": "g1", "type": "nominal"}, "y": {"field": "y", "type": "quantitative"}}},
    {"mark": {"type": "point", "shape": "M0,0L0,1", "size": 36, "filled": false, "color": "#7f7f7f", "strokeWidth": 0.9, "opacity": 1}, "encoding": {"x": {"field": "g2", "type": "nominal"}, "y": {"field": "y", "type": "quantitative"}}},
    {"mark": {"type": "text", "fontSize": 9, "color": "#333333", "baseline": "alphabetic", "dy": 1}, "encoding": {"x": {"field": "mid", "type": "nominal"}, "y": {"field": "y", "type": "quantitative"}, "text": {"field": "label"}}}
   ]}
  ]}
 ]},
 {"width": 650, "height": 368, "view": {"stroke": null},
  "title": {"text": "B", "anchor": "start", "dx": 16, "fontSize": 18, "fontWeight": "normal", "offset": 4, "color": "#000000"},
  "layer": [
   {"data": {"name": "edges"},
    "transform": [
     {"lookup": "a", "from": {"data": {"name": "nodes"}, "key": "id", "fields": ["x", "y"]}, "as": ["ax", "ay"]},
     {"lookup": "b", "from": {"data": {"name": "nodes"}, "key": "id", "fields": ["x", "y"]}, "as": ["bx", "by"]}
    ],
    "mark": {"type": "rule", "color": "#c4c4c4", "strokeWidth": 0.6, "opacity": 0.9},
    "encoding": {
     "x": {"field": "ax", "type": "quantitative", "scale": {"domain": [0, 650], "nice": false, "zero": false}, "axis": null},
     "y": {"field": "ay", "type": "quantitative", "scale": {"domain": [490, 858], "nice": false, "zero": false, "reverse": true}, "axis": null},
     "x2": {"field": "bx"}, "y2": {"field": "by"}
    }},
   {"data": {"name": "slices"},
    "transform": [{"lookup": "id", "from": {"data": {"name": "nodes"}, "key": "id", "fields": ["x", "y", "n"]}}],
    "mark": {"type": "arc"},
    "encoding": {
     "x": {"field": "x", "type": "quantitative"},
     "y": {"field": "y", "type": "quantitative"},
     "theta": {"field": "t0", "type": "quantitative", "scale": {"domain": [0, 1]}},
     "theta2": {"field": "t1"},
     "radius": {"field": "n", "type": "quantitative", "scale": {"type": "sqrt", "domain": [0, 10], "range": [0, 9]}},
     "fill": {"field": "cls", "type": "nominal", "scale": {"domain": ["RPF proteins", "Treatment−responsive proteins"], "range": ["#6C6AC2", "#D8621E"]},
       "legend": {"orient": "none", "legendX": 546, "legendY": 131, "title": null, "symbolType": "square", "symbolSize": 100, "labelFontSize": 5.5, "labelColor": "#555555", "rowPadding": 3, "labelOffset": 4, "padding": 0, "symbolStrokeWidth": 0}}
    }},
   {"data": {"name": "nodes"}, "layer": [
    {"transform": [{"filter": "isValid(datum.qx)"}],
     "mark": {"type": "rule", "color": "#444444", "strokeWidth": 0.7},
     "encoding": {"x": {"field": "qx", "type": "quantitative"}, "y": {"field": "qy", "type": "quantitative"}, "x2": {"field": "x"}, "y2": {"field": "y"}}},
    {"mark": {"type": "text", "fontSize": 9.3, "color": "#1f1f1f", "align": "center", "baseline": "middle"},
     "encoding": {"x": {"field": "lx", "type": "quantitative"}, "y": {"field": "ly", "type": "quantitative"}, "text": {"field": "label"}}}
   ]}
  ]}
]
}
